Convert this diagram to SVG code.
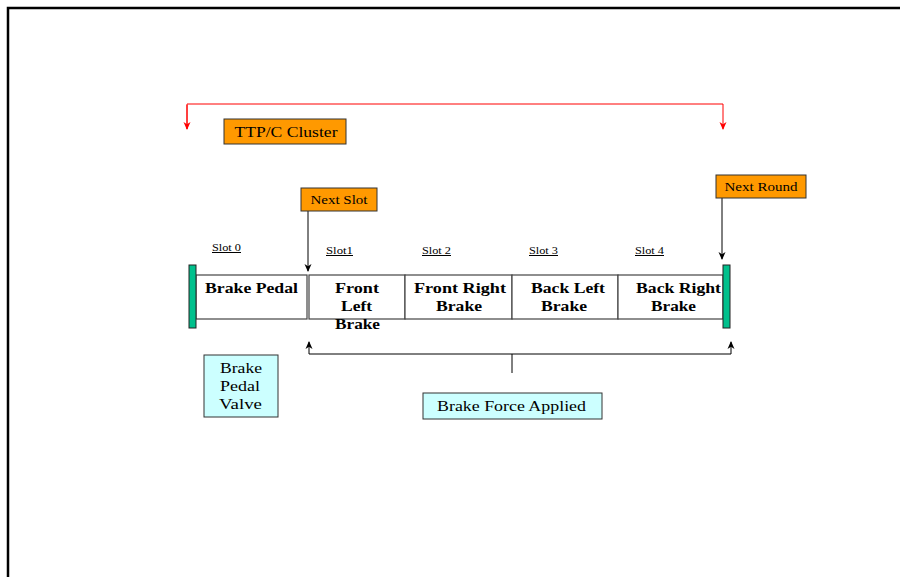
<svg xmlns="http://www.w3.org/2000/svg" width="900" height="577" viewBox="0 0 900 577">
<style>
.t{font-family:"Liberation Serif","Times New Roman",serif;fill:#000}
.b{font-weight:bold;font-size:15.5px;text-anchor:middle}
.lab{font-size:14.5px;text-anchor:middle}
.sl{font-size:10px;text-decoration:underline}
.or{fill:#FF9900;stroke:#333;stroke-width:1}
.cy{fill:#CCFFFF;stroke:#333;stroke-width:1}
.slot{fill:#fff;stroke:#444;stroke-width:1.2}
.gr{fill:#00C08C;stroke:#222;stroke-width:1}
.ln{fill:none;stroke:#000;stroke-width:1}
.red{fill:none;stroke:#FF0000;stroke-width:1}
</style>
<defs>
<marker id="ak" markerWidth="9" markerHeight="9" refX="7" refY="4.5" orient="auto" markerUnits="userSpaceOnUse"><path d="M0,1 L8,4.5 L0,8 L2.2,4.5 Z" fill="#000"/></marker>
<marker id="ar" markerWidth="9" markerHeight="9" refX="7" refY="4.5" orient="auto" markerUnits="userSpaceOnUse"><path d="M0,1 L8,4.5 L0,8 L2.2,4.5 Z" fill="#FF0000"/></marker>
</defs>
<rect width="900" height="577" fill="#fff"/>
<path d="M8,577 V8 H900" fill="none" stroke="#000" stroke-width="2.5"/>
<g id="connectors">
<path class="red" d="M187,129 V104 H723 V129" marker-end="url(#ar)"/>
<path class="red" d="M187,105 V129" marker-end="url(#ar)"/>
<line class="ln" x1="308" y1="211" x2="308" y2="271" marker-end="url(#ak)"/>
<line class="ln" x1="722" y1="198" x2="722" y2="259" marker-end="url(#ak)"/>
<path class="ln" d="M309,354 H731"/>
<line class="ln" x1="309" y1="354" x2="309" y2="342" marker-end="url(#ak)"/>
<line class="ln" x1="731" y1="354" x2="731" y2="342" marker-end="url(#ak)"/>
<line class="ln" x1="512" y1="354" x2="512" y2="373"/>
</g>
<g id="cluster"><rect class="or" x="224" y="119" width="122" height="25"/><text class="t lab" x="286" y="137" textLength="103" lengthAdjust="spacingAndGlyphs">TTP/C Cluster</text></g>
<g id="next-slot"><rect class="or" x="301" y="188" width="76" height="23"/><text class="t" x="339" y="204" font-size="13" text-anchor="middle" textLength="57" lengthAdjust="spacingAndGlyphs">Next Slot</text></g>
<g id="next-round"><rect class="or" x="716" y="175" width="90" height="23"/><text class="t" x="761" y="191" font-size="13" text-anchor="middle" textLength="73" lengthAdjust="spacingAndGlyphs">Next Round</text></g>
<g id="slot-labels">
<text class="t sl" x="212" y="251" textLength="29" lengthAdjust="spacingAndGlyphs">Slot 0</text>
<text class="t sl" x="326" y="254" textLength="27" lengthAdjust="spacingAndGlyphs">Slot1</text>
<text class="t sl" x="422" y="254" textLength="29" lengthAdjust="spacingAndGlyphs">Slot 2</text>
<text class="t sl" x="529" y="254" textLength="29" lengthAdjust="spacingAndGlyphs">Slot 3</text>
<text class="t sl" x="635" y="254" textLength="29" lengthAdjust="spacingAndGlyphs">Slot 4</text>
</g>
<g id="slot0"><rect class="slot" x="196" y="275" width="111" height="44"/><text class="t b" x="251.5" y="293" textLength="93" lengthAdjust="spacingAndGlyphs">Brake Pedal</text></g>
<g id="slot1"><rect class="slot" x="309" y="275" width="96" height="44"/><text class="t b" x="357" y="293" textLength="44" lengthAdjust="spacingAndGlyphs">Front</text><text class="t b" x="356.5" y="311" textLength="31" lengthAdjust="spacingAndGlyphs">Left</text><text class="t b" x="357.5" y="329" textLength="45" lengthAdjust="spacingAndGlyphs">Brake</text></g>
<g id="slot2"><rect class="slot" x="405" y="275" width="107" height="44"/><text class="t b" x="460" y="293" textLength="92" lengthAdjust="spacingAndGlyphs">Front Right</text><text class="t b" x="459" y="311" textLength="46" lengthAdjust="spacingAndGlyphs">Brake</text></g>
<g id="slot3"><rect class="slot" x="512" y="275" width="106" height="44"/><text class="t b" x="568" y="293" textLength="74" lengthAdjust="spacingAndGlyphs">Back Left</text><text class="t b" x="564" y="311" textLength="46" lengthAdjust="spacingAndGlyphs">Brake</text></g>
<g id="slot4"><rect class="slot" x="618" y="275" width="105" height="44"/><text class="t b" x="678.5" y="293" textLength="85" lengthAdjust="spacingAndGlyphs">Back Right</text><text class="t b" x="673.5" y="311" textLength="45" lengthAdjust="spacingAndGlyphs">Brake</text></g>
<g id="bar-left"><rect class="gr" x="189" y="265" width="7" height="63"/></g>
<g id="bar-right"><rect class="gr" x="723" y="265" width="7" height="63"/></g>
<g id="valve"><rect class="cy" x="204" y="355" width="74" height="62"/><text class="t lab" x="241" y="373" textLength="42" lengthAdjust="spacingAndGlyphs">Brake</text><text class="t lab" x="240" y="391" textLength="40" lengthAdjust="spacingAndGlyphs">Pedal</text><text class="t lab" x="240.5" y="409" textLength="43" lengthAdjust="spacingAndGlyphs">Valve</text></g>
<g id="force"><rect class="cy" x="423" y="393" width="179" height="26"/><text class="t lab" x="511.5" y="411" textLength="149" lengthAdjust="spacingAndGlyphs">Brake Force Applied</text></g>
</svg>
